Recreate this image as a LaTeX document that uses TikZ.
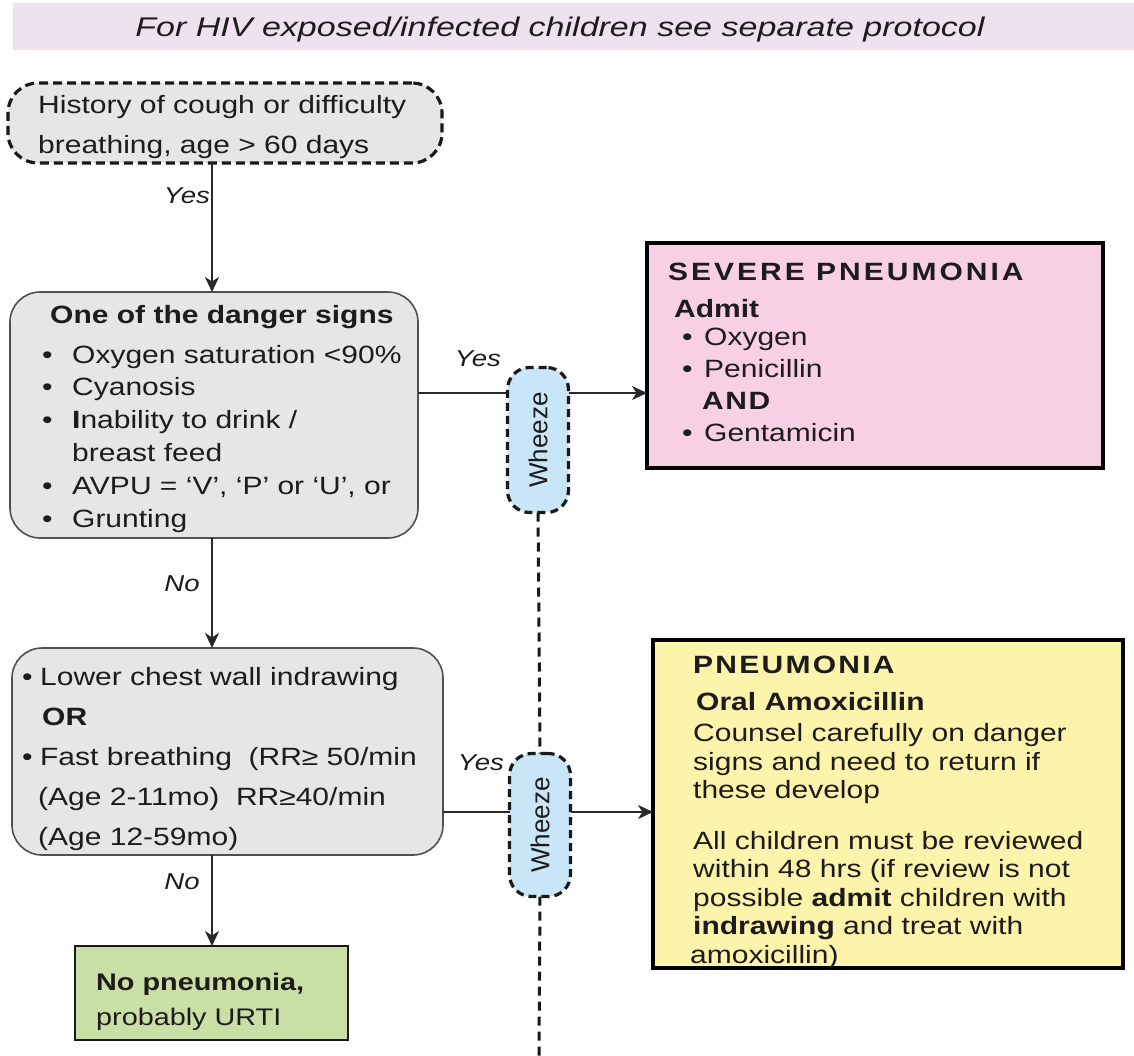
\documentclass[tikz,border=0pt]{standalone}
\usepackage{fontspec}
\setmainfont{Liberation Sans}[FakeStretch=1.2]
\newfontfamily\bannerfont{Liberation Sans}[FakeStretch=1.26]
\newfontfamily\plainfont{Liberation Sans}
\usetikzlibrary{arrows.meta}
\definecolor{bannerc}{RGB}{239,226,239}
\definecolor{boxgray}{RGB}{230,230,231}
\definecolor{boxborder}{RGB}{80,80,80}
\definecolor{wheezec}{RGB}{200,230,248}
\definecolor{severec}{RGB}{248,208,228}
\definecolor{pneuc}{RGB}{252,244,170}
\definecolor{nopnc}{RGB}{200,224,166}
\definecolor{txtc}{RGB}{30,27,28}
\definecolor{linec}{RGB}{40,40,40}
\tikzset{
  boxbase/.style={anchor=north west, inner sep=0pt, outer sep=0pt},
  graybox/.style={boxbase, draw=boxborder, line width=1.6bp, fill=boxgray, rounded corners=30bp},
  txt/.style={inner sep=0pt, anchor=north west, align=left, text=txtc},
  lbl/.style={inner sep=0pt, anchor=base, text=txtc, font=\fontsize{23bp}{26bp}\selectfont\itshape},
  conn/.style={draw=linec, line width=2bp},
  arr/.style={conn, -{Stealth[length=15bp,width=14bp,inset=4.5bp]}},
  wheezebox/.style={boxbase, anchor=center, draw=black!90, line width=3.2bp, dash pattern=on 8bp off 5bp, fill=wheezec, rounded corners=22bp, minimum width=61bp, minimum height=145bp},
  dline/.style={draw=black!90, line width=3bp, dash pattern=on 9bp off 6bp}
}
\newcommand{\bl}[1]{\makebox[#1][l]{\textbullet}}
\begin{document}
\begin{tikzpicture}[x=1bp,y=-1bp]
\useasboundingbox (0,0) rectangle (1134,1056);
\fill[white] (0,0) rectangle (1134,1056);
% banner
\node[boxbase, fill=bannerc, minimum width=1121bp, minimum height=47bp] (banner) at (13,3) {};
\node[inner sep=0pt, anchor=base, text=txtc, font=\bannerfont\itshape\fontsize{27bp}{30bp}\selectfont] (bannertext) at (560,36) {For HIV exposed/infected children see separate protocol};
% start
\node[boxbase, draw=black!90, line width=3.2bp, dash pattern=on 9bp off 5bp, fill=boxgray, rounded corners=30bp, minimum width=434bp, minimum height=80bp] (start) at (8,83) {};
\node[txt, font=\fontsize{25bp}{40bp}\selectfont] (starttext) at (38,95) {History of cough or difficulty\\breathing, age > 60 days};
% danger box
\node[graybox, minimum width=408bp, minimum height=246bp] (danger) at (10,292) {};
\node[txt, font=\fontsize{25bp}{32.8bp}\selectfont] (dangertext) at (42,305) {\hspace*{8bp}\textbf{One of the danger signs}\\[7bp]
\bl{30bp}Oxygen saturation <90\%\\
\bl{30bp}Cyanosis\\
\bl{30bp}\textbf{I}nability to drink /\\
\hspace*{30bp}breast feed\\
\bl{30bp}AVPU = ‘V’, ‘P’ or ‘U’, or\\
\bl{30bp}Grunting};
% severe pneumonia
\node[boxbase, draw=black, line width=4bp, fill=severec, minimum width=456bp, minimum height=225bp] (severe) at (647,243) {};
\node[txt, font=\fontsize{25bp}{32bp}\selectfont] (severetext) at (668,263) {{\bfseries\addfontfeature{LetterSpace=12}SEVERE PNEUMONIA}\\[5bp]
\hspace*{6bp}\textbf{Admit}\\[-4bp]
\hspace*{14bp}\bl{22bp}Oxygen\\
\hspace*{14bp}\bl{22bp}Penicillin\\
\hspace*{34bp}{\bfseries\addfontfeature{LetterSpace=6}AND}\\
\hspace*{14bp}\bl{22bp}Gentamicin};
% wheeze 1
\node[wheezebox] (wz1) at (538,440) {};
\node[inner sep=0pt, rotate=90, text=txtc, font=\plainfont\fontsize{26bp}{30bp}\selectfont] (wz1text) at (wz1.center) {Wheeze};
% lower box
\node[graybox, minimum width=431bp, minimum height=207bp] (lower) at (12,648) {};
\node[txt, font=\fontsize{25bp}{40bp}\selectfont] (lowertext) at (22,667) {\bl{18bp}Lower chest wall indrawing\\
\hspace*{20bp}\textbf{OR}\\
\bl{18bp}Fast breathing\ \ (RR≥ 50/min\\
\hspace*{16bp}(Age 2-11mo)\ \ RR≥40/min\\
\hspace*{16bp}(Age 12-59mo)};
% wheeze 2
\node[wheezebox, minimum height=143bp] (wz2) at (540,825) {};
\node[inner sep=0pt, rotate=90, text=txtc, font=\plainfont\fontsize{26bp}{30bp}\selectfont] (wz2text) at (wz2.center) {Wheeze};
% pneumonia
\node[boxbase, draw=black, line width=4bp, fill=pneuc, minimum width=470bp, minimum height=328bp] (pneu) at (653,640) {};
\node[txt, font=\fontsize{25bp}{28.5bp}\selectfont] (pneutext) at (693,656) {{\bfseries\addfontfeature{LetterSpace=9}PNEUMONIA}\\[8bp]
\hspace*{3bp}\textbf{Oral Amoxicillin}\\[3bp]
Counsel carefully on danger\\
signs and need to return if\\
these develop\\[22bp]
All children must be reviewed\\
within 48 hrs (if review is not\\
possible \textbf{admit} children with\\
\textbf{indrawing} and treat with\\
\hspace*{-3bp}amoxicillin)};
% no pneumonia
\node[boxbase, draw=black!90, line width=2.6bp, fill=nopnc, minimum width=273bp, minimum height=94bp] (nopn) at (75,946) {};
\node[txt, font=\fontsize{24bp}{35bp}\selectfont] (nopntext) at (96,973) {\textbf{No pneumonia,}\\probably URTI};
% coordinates
\coordinate (h1) at (0,393);
\coordinate (h2) at (0,812);
\coordinate (vx) at (212,0);
\coordinate (bottomend) at (539,1056);
% connectors
\draw[arr] (start.south -| vx) -- (danger.north -| vx);
\node[lbl] (yes1) at (187,203) {Yes};
\draw[arr] (danger.south -| vx) -- (lower.north -| vx);
\node[lbl] (no1) at (182,591) {No};
\draw[arr] (lower.south -| vx) -- (nopn.north -| vx);
\node[lbl] (no2) at (182,889) {No};
\draw[conn] (danger.east |- h1) -- (wz1.west |- h1);
\draw[arr] (wz1.east |- h1) -- (severe.west |- h1);
\node[lbl] (yes2) at (478,366) {Yes};
\draw[conn] (lower.east |- h2) -- (wz2.west |- h2);
\draw[arr] (wz2.east |- h2) -- (pneu.west |- h2);
\node[lbl] (yes3) at (481,770) {Yes};
\draw[dline] (wz1.south) -- (wz2.north);
\draw[dline] (wz2.south) -- (bottomend);
\end{tikzpicture}
\end{document}
